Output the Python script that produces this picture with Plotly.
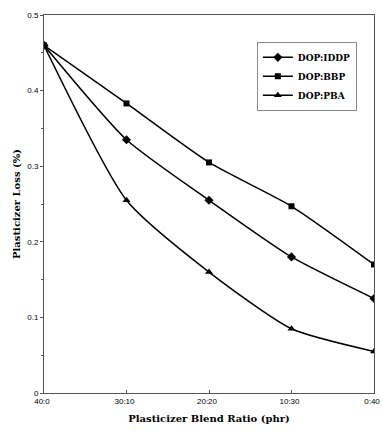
import plotly.graph_objects as go

ratios = ["40:0", "30:10", "20:20", "10:30", "0:40"]
iddp = [0.46, 0.335, 0.255, 0.18, 0.125]
bbp = [0.46, 0.383, 0.305, 0.247, 0.17]
pba = [0.46, 0.255, 0.16, 0.085, 0.055]

xpos = list(range(len(ratios)))

fig = go.Figure()
series = [("DOP:IDDP", iddp, "diamond", 7), ("DOP:BBP", bbp, "square", 6), ("DOP:PBA", pba, "triangle-up", 7)]
for name, vals, sym, sz in series:
    fig.add_trace(go.Scatter(
        x=xpos, y=vals, name=name, mode="lines+markers",
        line=dict(color="black", width=1.5, shape="spline", smoothing=0.6),
        marker=dict(symbol=sym, size=sz, color="black"),
    ))

fig.update_layout(
    width=383, height=435,
    margin=dict(l=44, r=9, t=15, b=42, autoexpand=False),
    plot_bgcolor="white", paper_bgcolor="white",
    showlegend=True,
    legend=dict(x=0.645, y=0.929, xanchor="left", yanchor="top",
                bordercolor="#888", borderwidth=1, bgcolor="white",
                font=dict(family="DejaVu Serif", size=9, color="black", weight="bold"),
                itemwidth=30, tracegroupgap=0),
    font=dict(family="DejaVu Serif", color="black"),
)
fig.update_xaxes(
    range=[0, 4], tickvals=xpos, ticktext=ratios,
    showgrid=False, zeroline=False, showline=True, linecolor="#555", linewidth=1, mirror=True,
    ticks="inside", ticklen=3, tickcolor="#555", ticklabeloverflow="allow", ticklabelshift=-2,
    tickfont=dict(family="Liberation Sans", size=8, color="black"),
    title=dict(text="<b>Plasticizer Blend Ratio (phr)</b>", font=dict(family="DejaVu Serif", size=10), standoff=10),
    automargin=False,
)
fig.update_yaxes(
    range=[0, 0.5], tickvals=[0, 0.1, 0.2, 0.3, 0.4, 0.5], ticktext=["0", "0.1", "0.2", "0.3", "0.4", "0.5"],
    showgrid=False, zeroline=False, showline=True, linecolor="#555", linewidth=1, mirror=True,
    ticks="outside", ticklen=3, tickcolor="#555",
    minor=dict(tickvals=[0.05, 0.15, 0.25, 0.35, 0.45], ticks="outside", ticklen=2, tickcolor="#555"),
    tickfont=dict(family="Liberation Sans", size=8, color="black"),
    title=dict(text="<b>Plasticizer Loss (%)</b>", font=dict(family="DejaVu Serif", size=10), standoff=4),
    automargin=False,
)

# remove the page's default body margin so the figure sits at the window origin without scrollbars
fig.write_html("out.html",
               config={"displayModeBar": False},
               post_script="document.body.style.margin='0';document.body.style.overflow='hidden';")
